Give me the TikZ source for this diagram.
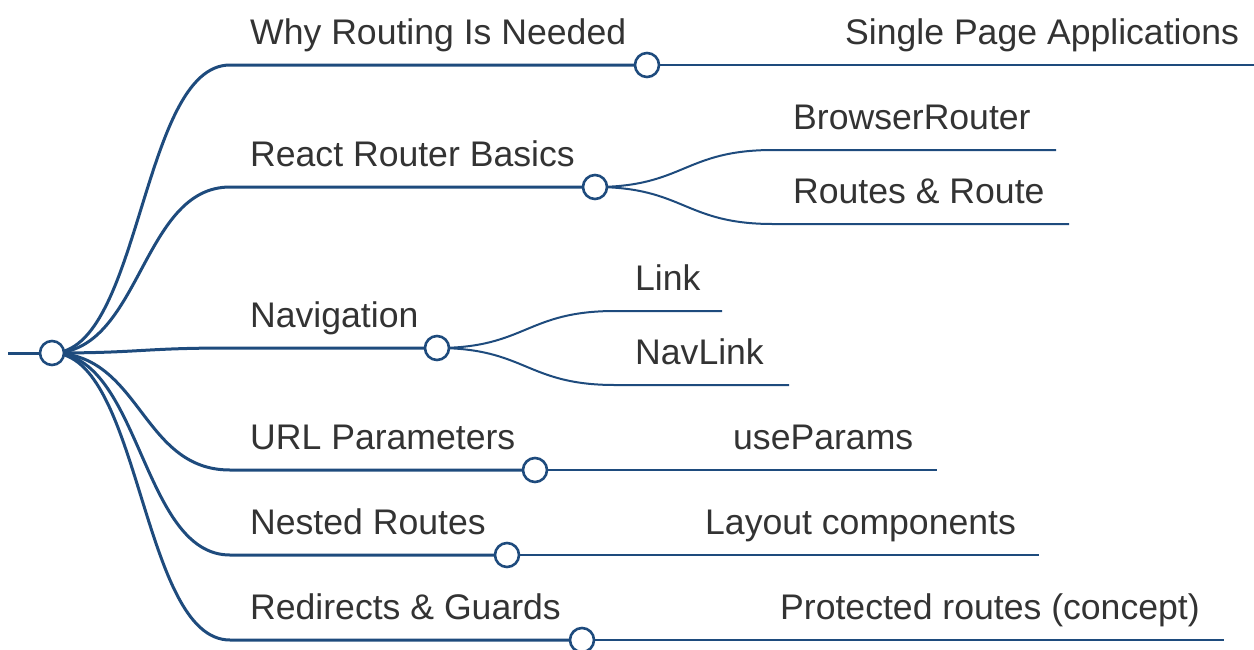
\documentclass[tikz,border=0pt]{standalone}
\usepackage{fontspec}
\setmainfont{Liberation Sans}
\definecolor{branch}{HTML}{1E4B7D}
\definecolor{ink}{HTML}{333333}
\tikzset{
  edgeone/.style={draw=branch, line width=3pt},
  edgetwo/.style={draw=branch, line width=2pt},
  dot/.style={circle, draw=branch, fill=white, line width=2.6pt, minimum size=24pt, inner sep=0pt},
  lbl/.style={anchor=base west, inner sep=0pt, text=ink, font=\fontsize{35.6}{42}\selectfont},
}
\begin{document}
\begin{tikzpicture}[x=1pt,y=-1pt]
\useasboundingbox (0,0) rectangle (1254,649);
\clip (0,0) rectangle (1254,649);

% circle centres
\coordinate (root-c) at (52,353);
\coordinate (why-c) at (647,65);
\coordinate (react-c) at (595,187);
\coordinate (nav-c) at (437,348);
\coordinate (url-c) at (535,470);
\coordinate (nest-c) at (507,555);
\coordinate (redir-c) at (582,640);

% start of each underline
\coordinate (root-s) at (8,353);
\coordinate (why-s) at (230,65);
\coordinate (react-s) at (230,187);
\coordinate (nav-s) at (230,348);
\coordinate (url-s) at (230,470);
\coordinate (nest-s) at (230,555);
\coordinate (redir-s) at (230,640);

\coordinate (spa-s) at (825,65);     \coordinate (spa-e) at (1262,65);
\coordinate (br-s) at (773,150);     \coordinate (br-e) at (1056,150);
\coordinate (rr-s) at (773,224);     \coordinate (rr-e) at (1069,224);
\coordinate (link-s) at (615,311);   \coordinate (link-e) at (722,311);
\coordinate (nl-s) at (615,385);     \coordinate (nl-e) at (789,385);
\coordinate (up-s) at (713,470);     \coordinate (up-e) at (937,470);
\coordinate (lay-s) at (685,555);    \coordinate (lay-e) at (1039,555);
\coordinate (prot-s) at (760,640);   \coordinate (prot-e) at (1224,640);

% root stub
\draw[edgeone] (root-s) -- (root-c);

% first level: links and underlines
\foreach \n in {why,react,nav,url,nest,redir}{
  \draw[edgeone] (root-c) .. controls +(89,0) and +(-89,0) .. (\n-s) -- (\n-c);
}

% second level: links and underlines
\foreach \p/\c in {why/spa,react/br,react/rr,nav/link,nav/nl,url/up,nest/lay,redir/prot}{
  \draw[edgetwo] (\p-c) .. controls +(89,0) and +(-89,0) .. (\c-s) -- (\c-e);
}

% circles
\node[dot] (root) at (root-c) {};
\node[dot] (why) at (why-c) {};
\node[dot] (react) at (react-c) {};
\node[dot] (nav) at (nav-c) {};
\node[dot] (url) at (url-c) {};
\node[dot] (nest) at (nest-c) {};
\node[dot] (redir) at (redir-c) {};

% labels
\node[lbl] (why-t) at (250,44) {Why Routing Is Needed};
\node[lbl] (react-t) at (250,166) {React Router Basics};
\node[lbl] (nav-t) at (250,327) {Navigation};
\node[lbl] (url-t) at (250,449) {URL Parameters};
\node[lbl] (nest-t) at (250,534) {Nested Routes};
\node[lbl] (redir-t) at (250,619) {Redirects \& Guards};

\node[lbl] (spa-t) at (845,44) {Single Page Applications};
\node[lbl] (br-t) at (793,129) {BrowserRouter};
\node[lbl] (rr-t) at (793,203) {Routes \& Route};
\node[lbl] (link-t) at (635,290) {Link};
\node[lbl] (nl-t) at (635,364) {NavLink};
\node[lbl] (up-t) at (733,449) {useParams};
\node[lbl] (lay-t) at (705,534) {Layout components};
\node[lbl] (prot-t) at (780,619) {Protected routes (concept)};
\end{tikzpicture}
\end{document}
